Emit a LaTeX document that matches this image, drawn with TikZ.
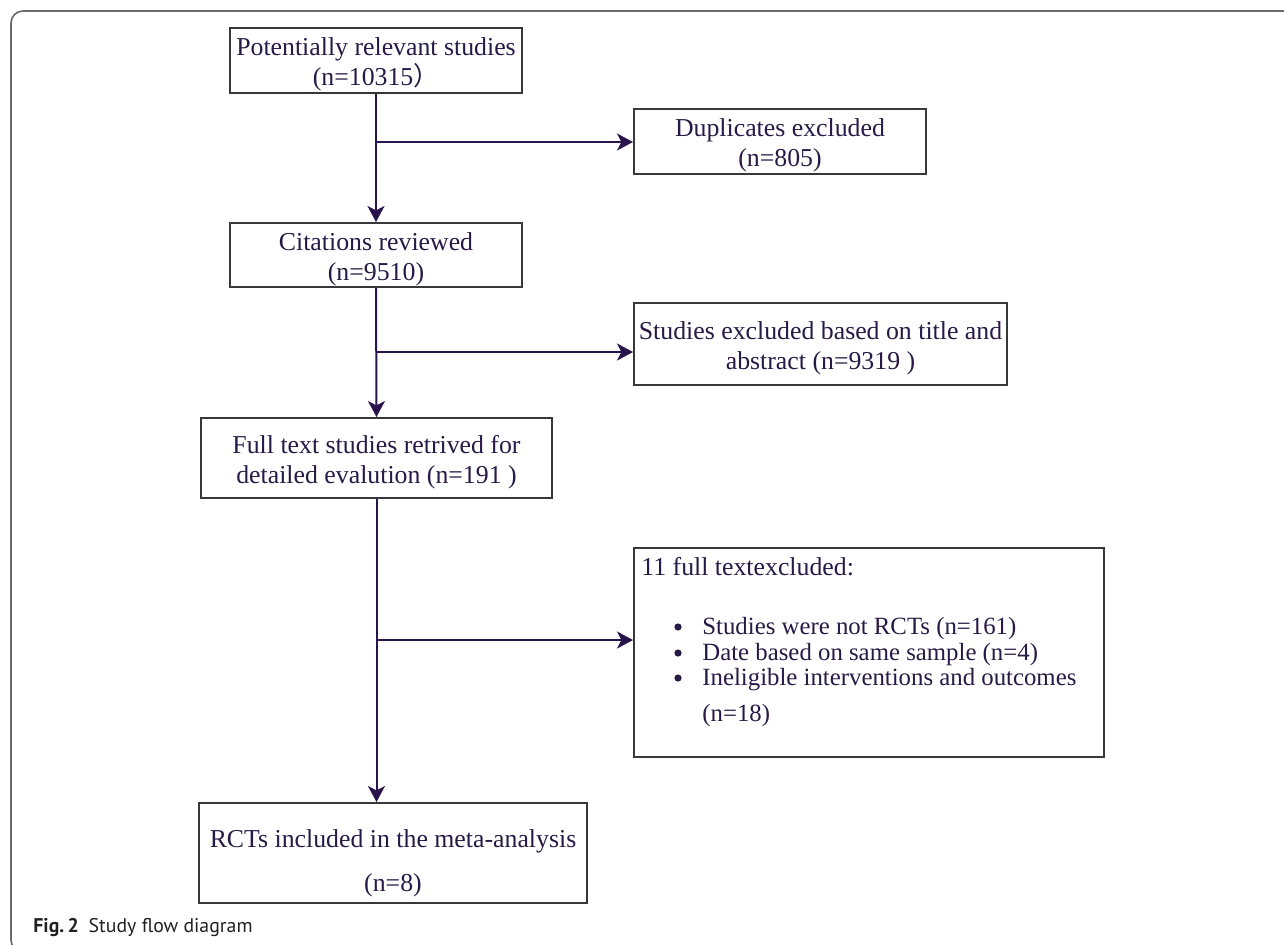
\documentclass[tikz,border=0pt]{standalone}
\usepackage{fontspec}
\setmainfont{Liberation Serif}
\newfontfamily\capfont{PT Sans}
\newfontfamily\cjk{Noto Sans CJK SC}
\usetikzlibrary{arrows.meta}
\definecolor{txt}{RGB}{40,25,70}
\definecolor{arr}{RGB}{40,20,75}
\definecolor{bord}{RGB}{55,55,60}
\definecolor{framec}{RGB}{105,105,105}
\definecolor{capc}{RGB}{35,31,32}
\begin{document}
\begin{tikzpicture}[x=0.5pt,y=-0.5pt,
  box/.style={draw=bord, line width=1pt, inner sep=0pt},
  btext/.style={inner sep=0pt, align=center, text=txt, font=\fontsize{12.9}{15}\selectfont},
  lbl/.style={inner sep=0pt, text=txt, font=\fontsize{12.4}{14}\selectfont},
  dot/.style={circle, fill=txt, inner sep=0pt, minimum size=3.6pt},
  conn/.style={draw=arr, line width=1pt, -{Stealth[length=8pt,width=8.5pt,inset=2.2pt]}},
  ]
\useasboundingbox (0,0) rectangle (1284,944);
\begin{scope}
  \clip (0,0) rectangle (1284,944);
  \draw[framec, line width=0.8pt, rounded corners=6pt] (1300,11) -- (11,11) -- (11,952) -- (60,952);
\end{scope}

\node[box, minimum width=146pt, minimum height=32.5pt] (b1) at (376,60.5) {};
\node[btext] (b1t) at ([yshift=-2pt]b1.center) {Potentially relevant studies\\(n=10315{\cjk ）}};
\node[box, minimum width=146pt, minimum height=32pt] (b2) at (376,255) {};
\node[btext] (b2t) at ([yshift=-2pt]b2.center) {Citations reviewed\\(n=9510)};
\node[box, minimum width=175.5pt, minimum height=40pt] (b3) at (376.5,458) {};
\node[btext] (b3t) at ([yshift=-2pt]b3.center) {Full text studies retrived for\\detailed evalution (n=191 )};
\node[box, minimum width=194pt, minimum height=50pt] (b4) at (393,853) {};
\node[btext, font=\fontsize{12.9}{22}\selectfont] (b4t) at ([yshift=-5pt]b4.center) {RCTs included in the meta-analysis\\(n=8)};
\node[box, minimum width=146pt, minimum height=32.5pt] (bd) at (780,141.5) {};
\node[btext] (bdt) at ([yshift=-2pt]bd.center) {Duplicates excluded\\(n=805)};
\node[box, minimum width=186.5pt, minimum height=41pt] (ba) at (820.5,344) {};
\node[btext] (bat) at ([yshift=-2pt]ba.center) {Studies excluded based on title and\\abstract (n=9319 )};
\node[box, minimum width=235pt, minimum height=104.5pt] (b11) at (869,652.5) {};

\node[lbl, anchor=base west, font=\fontsize{12.9}{15}\selectfont] (h11) at (641,575) {11 full textexcluded:};
\node[dot] (u1) at (678,627) {};
\node[lbl, anchor=base west] (t1) at (702,634) {Studies were not RCTs (n=161)};
\node[dot] (u2) at (678,653) {};
\node[lbl, anchor=base west] (t2) at (702,660) {Date based on same sample (n=4)};
\node[dot] (u3) at (678,678) {};
\node[lbl, anchor=base west] (t3) at (702,685) {Ineligible interventions and outcomes};
\node[lbl, anchor=base west] (t4) at (702,721) {(n=18)};

\coordinate (j1) at (376,142);
\coordinate (j2) at (376,352);
\coordinate (j3) at (376,640);
\draw[conn] (b1.south) -- (b2.north);
\draw[conn] (j1) -- (j1 -| bd.west);
\draw[conn] (b2.south) -- (b3.north);
\draw[conn] (j2) -- (j2 -| ba.west);
\draw[conn] (b3.south) -- (b3.south |- b4.north);
\draw[conn] (j3) -- (j3 -| b11.west);

\node[anchor=base west, inner sep=0pt, text=capc, font=\capfont\fontsize{9.9}{12}\selectfont] (cap) at (33,932)
  {\textbf{Fig.\,2}\enspace Study flow diagram};
\end{tikzpicture}
\end{document}
